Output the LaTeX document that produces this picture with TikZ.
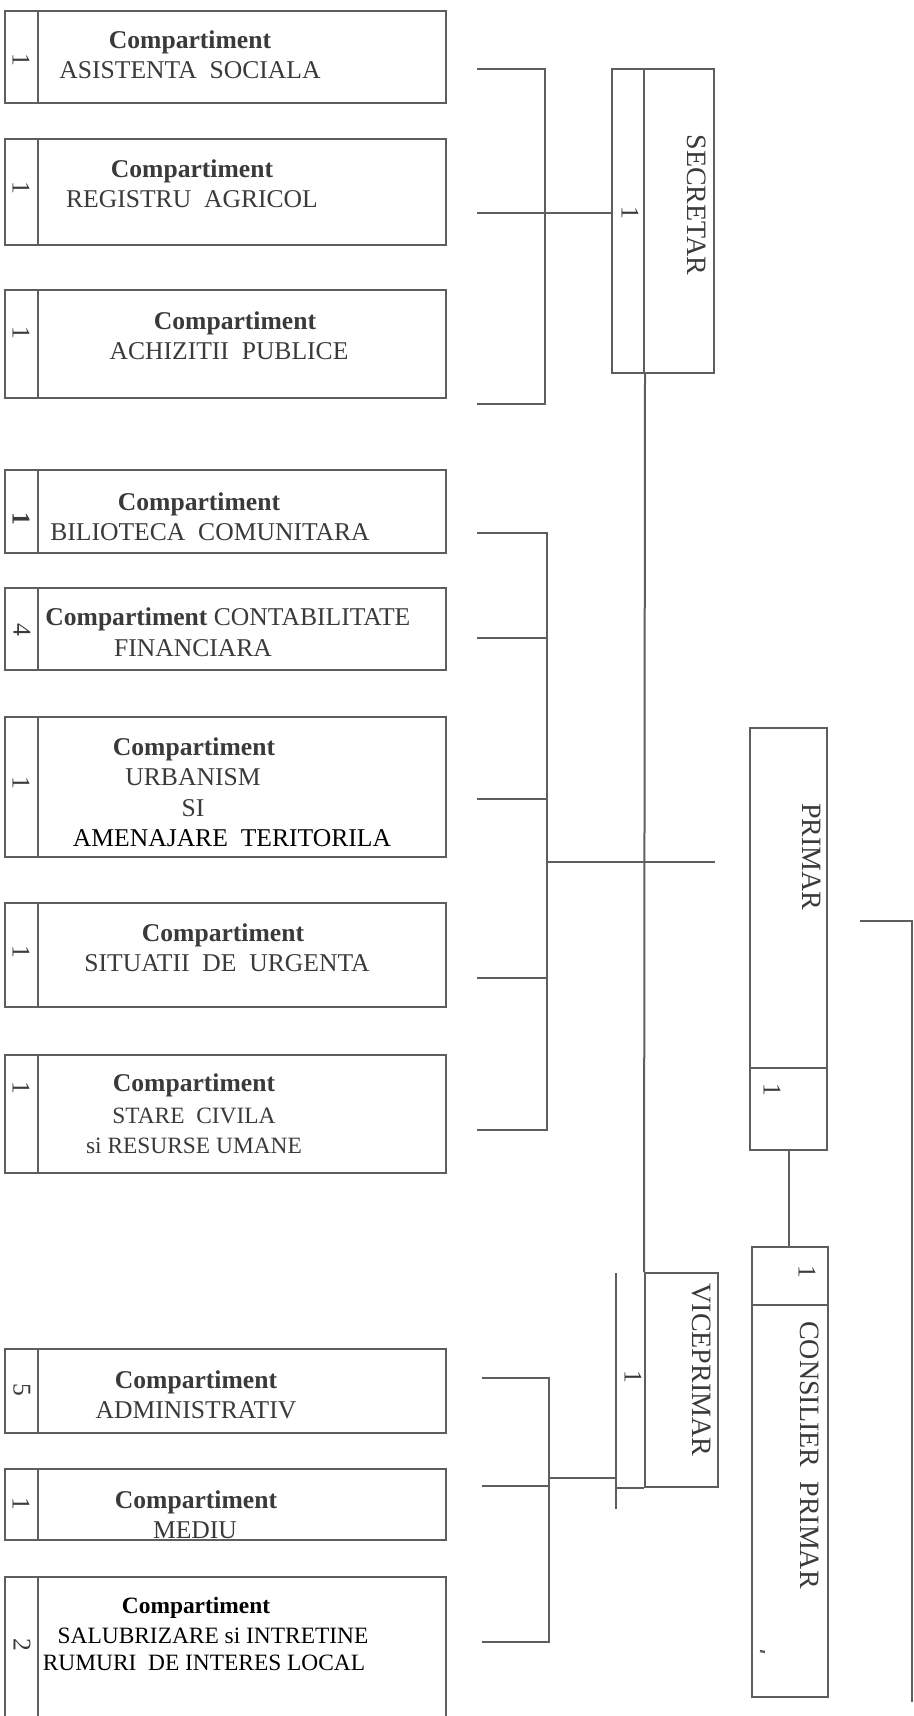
\documentclass[tikz,border=0pt]{standalone}
\usepackage{fontspec}
\setmainfont{Liberation Serif}
\usetikzlibrary{fit}
\definecolor{ln}{HTML}{5E5E5E}
\definecolor{ink}{HTML}{3A3A3A}
\tikzset{
  cell/.style={draw=ln, line width=1pt, inner sep=0pt},
  conn/.style={draw=ln, line width=1pt},
  txt/.style={text=ink, inner sep=0pt, anchor=base, font=\fontsize{12.8}{15}\selectfont},
  txtsm/.style={txt, font=\fontsize{11.7}{14}\selectfont},
  txtdk/.style={txt, text=black},
  num/.style={text=ink, inner sep=0pt, rotate=-90, font=\fontsize{12.8}{15}\selectfont},
  vlabel/.style={text=ink, inner sep=0pt, rotate=-90, font=\fontsize{14}{16}\selectfont},
}
\newcommand{\cpt}{\textbf{Compartiment}}
\newcommand{\orgbox}[3]{%
  \node[cell, fit={(5,#2) (446,#3)}] (#1) {};
  \draw[conn] (38,#2) -- (38,#3);
}
\begin{document}
\begin{tikzpicture}[x=0.5pt,y=-0.5pt]
\useasboundingbox (0,0) rectangle (914,1716);
\fill[white] (0,0) rectangle (914,1716);

% ---------- left boxes ----------
\orgbox{b1}{11}{103}
\node[num] (n1) at (21,60) {1};
\node[txt] (t1a) at (190,49) {\cpt};
\node[txt] (t1b) at (190,79) {ASISTENTA\ \ SOCIALA};

\orgbox{b2}{139}{245}
\node[num] (n2) at (21,188) {1};
\node[txt] (t2a) at (192,178) {\cpt};
\node[txt] (t2b) at (192,208) {REGISTRU\ \ AGRICOL};

\orgbox{b3}{290}{398}
\node[num] (n3) at (21,333) {1};
\node[txt] (t3a) at (235,330) {\cpt};
\node[txt] (t3b) at (229,360) {ACHIZITII\ \ PUBLICE};

\orgbox{b4}{470}{553}
\node[num, font=\fontsize{12.8}{15}\selectfont\bfseries] (n4) at (21,519) {1};
\node[txt] (t4a) at (199,510) {\cpt};
\node[txt] (t4b) at (210,540) {BILIOTECA\ \ COMUNITARA};

\orgbox{b5}{588}{670}
\node[num] (n5) at (22,630) {4};
\node[txt, anchor=base west] (t5a) at (45,625) {\cpt{} CONTABILITATE};
\node[txt] (t5b) at (193,656) {FINANCIARA};

\orgbox{b6}{717}{857}
\node[num] (n6) at (21,783) {1};
\node[txt] (t6a) at (194,755) {\cpt};
\node[txt] (t6b) at (193,785) {URBANISM};
\node[txt] (t6c) at (193,816) {SI};
\node[txtdk] (t6d) at (232,846) {AMENAJARE\ \ TERITORILA};

\orgbox{b7}{903}{1007}
\node[num] (n7) at (21,952) {1};
\node[txt] (t7a) at (223,941) {\cpt};
\node[txt] (t7b) at (227,971) {SITUATII\ \ DE\ \ URGENTA};

\orgbox{b8}{1055}{1173}
\node[num] (n8) at (21,1088) {1};
\node[txt] (t8a) at (194,1091) {\cpt};
\node[txtsm] (t8b) at (194,1123) {STARE\ \ CIVILA};
\node[txtsm] (t8c) at (194,1153) {si RESURSE UMANE};

\orgbox{b9}{1349}{1433}
\node[num] (n9) at (22,1390) {5};
\node[txt] (t9a) at (196,1388) {\cpt};
\node[txt] (t9b) at (196,1418) {ADMINISTRATIV};

\orgbox{b10}{1469}{1540}
\node[num] (n10) at (21,1504) {1};
\node[txt] (t10a) at (196,1508) {\cpt};
\node[txt] (t10b) at (195,1538) {MEDIU};

\orgbox{b11}{1577}{1740}
\node[num] (n11) at (22,1645) {2};
\node[txtsm, text=black] (t11a) at (196,1613) {\cpt};
\node[txtsm, text=black] (t11b) at (213,1643) {SALUBRIZARE si INTRETINE};
\node[txtsm, text=black] (t11c) at (204,1670) {RUMURI\ \ DE INTERES LOCAL};

% ---------- SECRETAR ----------
\node[cell, fit={(612,69) (714,373)}] (sec) {};
\draw[conn] (644,69) -- (644,373);
\node[num] (secn) at (630,213) {1};
\node[vlabel] (sect) at (697,205) {SECRETAR};

% ---------- PRIMAR ----------
\node[cell, fit={(750,728) (827,1150)}] (prim) {};
\draw[conn] (750,1068) -- (827,1068);
\node[vlabel] (primt) at (812,857) {PRIMAR};
\node[num] (primn) at (772,1090) {1};

% ---------- CONSILIER PRIMAR ----------
\node[cell, fit={(752,1247) (828,1697)}] (cons) {};
\draw[conn] (752,1305) -- (828,1305);
\node[num] (consn) at (807,1272) {1};
\node[vlabel] (const) at (810,1455) {CONSILIER\ \ PRIMAR};
\draw[ln, line width=1.2pt] (760,1651) -- (765,1652);

% ---------- VICEPRIMAR ----------
\node[cell, fit={(645,1273) (718,1487)}] (vice) {};
\coordinate (vc1) at (616,1273);
\coordinate (vc2) at (616,1509);
\draw[conn] (vc1) -- (vc2);
\draw[conn] (vc1 |- vice.south) -- (vice.south west);
\node[num] (vicen) at (633,1377) {1};
\node[vlabel] (vicet) at (702,1370) {VICEPRIMAR};

% ---------- trunk ----------
\coordinate (tr1) at (645,373);
\draw[conn] (tr1) -- (vice.north west);

% ---------- bracket 1 ----------
\coordinate (s1a) at (477,69);
\coordinate (s1b) at (477,213);
\coordinate (s1c) at (477,404);
\draw[conn] (s1a) -- (545,69) -- (545,404) -- (s1c);
\draw[conn] (s1b) -- (s1b -| sec.west);

% ---------- bracket 2 ----------
\coordinate (s2a) at (477,533);
\coordinate (s2b) at (477,638);
\coordinate (s2c) at (477,799);
\coordinate (s2d) at (477,978);
\coordinate (s2e) at (477,1130);
\coordinate (p2) at (715,862);
\draw[conn] (s2a) -- (547,533) -- (547,1130) -- (s2e);
\draw[conn] (s2b) -- (547,638);
\draw[conn] (s2c) -- (547,799);
\draw[conn] (s2d) -- (547,978);
\draw[conn] (547,862) -- (p2);

% ---------- bracket 3 ----------
\coordinate (s3a) at (482,1378);
\coordinate (s3b) at (482,1486);
\coordinate (s3c) at (482,1642);
\draw[conn] (s3a) -- (549,1378) -- (549,1642) -- (s3c);
\draw[conn] (s3b) -- (549,1486);
\draw[conn] (549,1478) -- (vc1 |- 549,1478);

% ---------- PRIMAR to CONSILIER ----------
\draw[conn] (prim.south) -- (prim.south |- cons.north);

% ---------- right bracket ----------
\coordinate (rb1) at (860,921);
\coordinate (rb2) at (912,1702);
\draw[conn] (rb1) -- (rb1 -| rb2) -- (rb2);
\end{tikzpicture}
\end{document}
